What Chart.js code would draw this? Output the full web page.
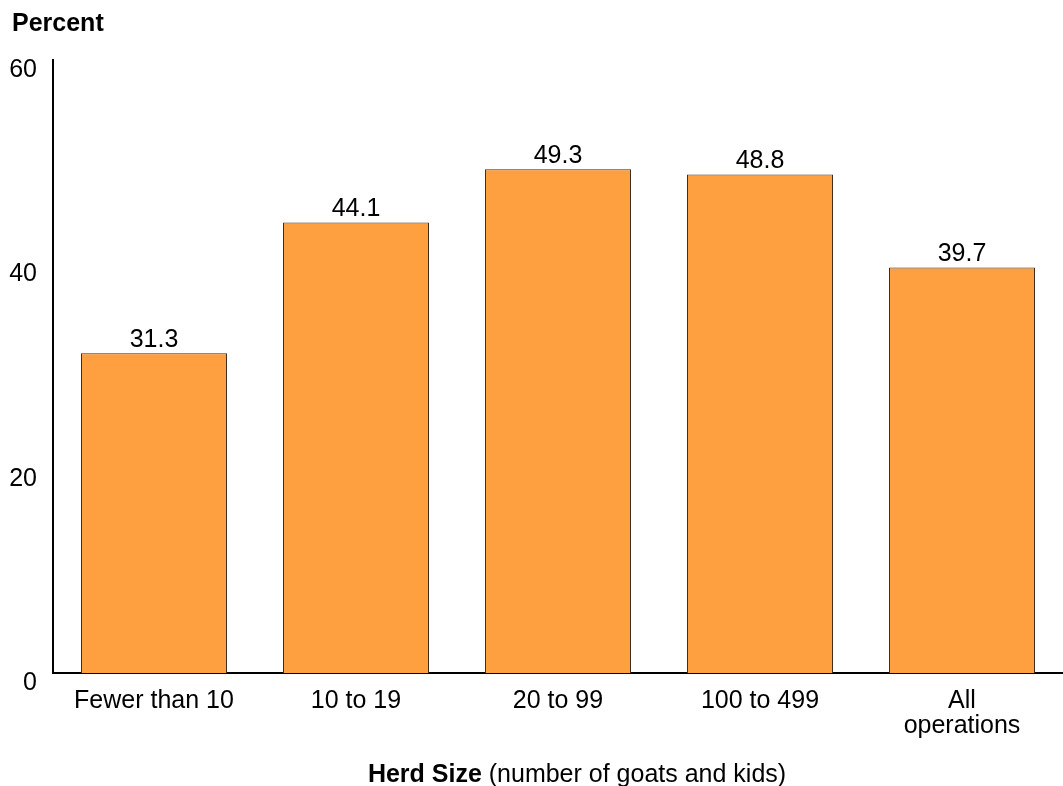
<!DOCTYPE html>
<html>
<head>
<meta charset="utf-8">
<script src="https://cdn.jsdelivr.net/npm/chart.js@4"></script>
<style>
  html, body { margin: 0; padding: 0; background: #fff; }
  #wrap { width: 1063px; height: 786px; position: relative; }
</style>
</head>
<body>
<div id="wrap"><canvas id="herdChart"></canvas></div>
<script>
// data
const categories = [['Fewer than 10'], ['10 to 19'], ['20 to 99'], ['100 to 499'], ['All', 'operations']];
const percents = [31.3, 44.1, 49.3, 48.8, 39.7];
const yTicks = [0, 20, 40, 60];

const FONT = '"Liberation Sans", Arial, sans-serif';
const FS = 25;

// text drawn around the plot: value labels, y unit, x title
const extraText = {
    id: 'extraText',
    afterDatasetsDraw(chart) {
        const c = chart.ctx;
        const meta = chart.getDatasetMeta(0);
        c.save();
        c.fillStyle = '#000';
        c.font = FS + 'px ' + FONT;
        c.textAlign = 'center';
        c.textBaseline = 'alphabetic';
        meta.data.forEach((bar, i) => {
            c.fillText(percents[i].toFixed(1), bar.x, bar.y - 6);
        });

        c.textAlign = 'left';
        c.font = 'bold ' + FS + 'px ' + FONT;
        c.fillText('Percent', 12, 31);

        // x title: bold part + normal part
        const boldPart = 'Herd Size';
        const normPart = ' (number of goats and kids)';
        c.font = 'bold ' + FS + 'px ' + FONT;
        const w1 = c.measureText(boldPart).width;
        c.font = FS + 'px ' + FONT;
        const w2 = c.measureText(normPart).width;
        const cx = (chart.chartArea.left + chart.chartArea.right) / 2 + 19;
        const x0 = cx - (w1 + w2) / 2;
        c.font = 'bold ' + FS + 'px ' + FONT;
        c.fillText(boldPart, x0, 782);
        c.font = FS + 'px ' + FONT;
        c.fillText(normPart, x0 + w1, 782);
        c.restore();
    }
};

const ctx = document.getElementById('herdChart').getContext('2d');
new Chart(ctx, {
    type: 'bar',
    data: {
        labels: categories,
        datasets: [{
            data: percents,
            backgroundColor: '#FFA040',
            borderColor: '#3d2b1c',
            borderWidth: 1,
            categoryPercentage: 0.723,
            barPercentage: 1
        }]
    },
    options: {
        responsive: true,
        maintainAspectRatio: false,
        animation: false,
        layout: { padding: { top: 60, right: 0, left: 0, bottom: 0 } },
        plugins: {
            legend: { display: false },
            tooltip: { enabled: false }
        },
        scales: {
            x: {
                grid: { display: false, drawTicks: false },
                border: { display: true, color: '#000', width: 2 },
                ticks: {
                    color: '#000',
                    font: { family: FONT, size: FS, lineHeight: 1.0 },
                    padding: 16,
                    maxRotation: 0,
                    autoSkip: false
                },
                afterFit(scale) { scale.height = 113; }
            },
            y: {
                min: 0,
                max: 60,
                grid: { display: false, drawTicks: false },
                border: { display: true, color: '#000', width: 2 },
                afterBuildTicks(scale) {
                    scale.ticks = yTicks.map(v => ({ value: v }));
                },
                ticks: {
                    color: '#000',
                    font: { family: FONT, size: FS },
                    padding: 16,
                    labelOffset: 10
                },
                afterFit(scale) { scale.width = 53; }
            }
        }
    },
    plugins: [extraText]
});
</script>
</body>
</html>
